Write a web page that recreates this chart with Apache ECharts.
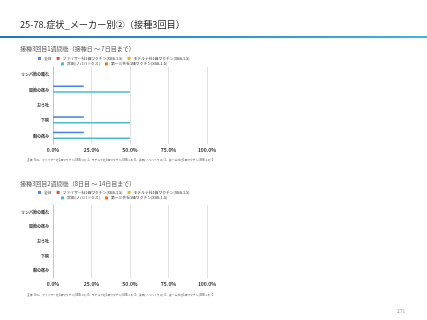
<!DOCTYPE html>
<html><head><meta charset="utf-8">
<script src="https://cdn.jsdelivr.net/npm/echarts@6/dist/echarts.min.js"></script>
<style>html,body{margin:0;padding:0;background:#fff}#c{width:427px;height:320px}</style>
</head><body><div id="c"></div>
<script>
const categories = ['リンパ節の腫れ', '関節の痛み', 'おう吐', '下痢', '胸の痛み'];
const seriesNames = ['全体', 'ファイザー社1価ワクチン(XBB.1.5)', 'モデルナ社1価ワクチン(XBB.1.5)', '武田(ノババックス)', '第一三共社1価ワクチン(XBB.1.5)'];
const colors = ['#4a86e8', '#e8453c', '#f6b400', '#46bdc6', '#ff6d01'];
// Chart 1: 1 week after
const week1_all = [0, 20, 0, 20, 20];
const week1_pfizer = [0, 0, 0, 0, 0];
const week1_moderna = [0, 0, 0, 0, 0];
const week1_takeda = [0, 50, 0, 50, 50];
const week1_daiichi = [0, 0, 0, 0, 0];
// Chart 2: 2 weeks after
const week2_all = [0, 0, 0, 0, 0];
const week2_pfizer = [0, 0, 0, 0, 0];
const week2_moderna = [0, 0, 0, 0, 0];
const week2_takeda = [0, 0, 0, 0, 0];
const week2_daiichi = [0, 0, 0, 0, 0];
const xTicks = [0, 25, 50, 75, 100];
const title = '25-78.症状_メーカー別②（接種3回目）';
const sub1 = '接種3回目1週間後（接種日 ～ 7日目まで）';
const sub2 = '接種3回目2週間後（8日目 ～ 14日目まで）';
const note1 = '全体: N=5、ファイザー社1価ワクチン(XBB.1.5): 2、モデルナ社1価ワクチン(XBB.1.5): 0、武田(ノババックス): 2、第一三共社1価ワクチン(XBB.1.5): 0';
const note2 = '全体: N=0、ファイザー社1価ワクチン(XBB.1.5): 0、モデルナ社1価ワクチン(XBB.1.5): 0、武田(ノババックス): 0、第一三共社1価ワクチン(XBB.1.5): 0';
const pageNo = '271';

const FF = '"Noto Sans CJK JP", "Noto Sans", sans-serif';
const w1 = [week1_all, week1_pfizer, week1_moderna, week1_takeda, week1_daiichi];
const w2 = [week2_all, week2_pfizer, week2_moderna, week2_takeda, week2_daiichi];

function xAxis(gi) {
  return {
    gridIndex: gi, type: 'value', min: 0, max: 100, interval: 25,
    axisLine: {show: false}, axisTick: {show: false},
    splitLine: {lineStyle: {color: '#d9d9d9', width: 0.8}},
    axisLabel: {fontSize: 5, color: '#333', fontWeight: 'bold', fontFamily: FF, margin: 4,
      formatter: v => v.toFixed(1) + '%'}
  };
}
function yAxis(gi) {
  return {
    gridIndex: gi, type: 'category', data: categories, inverse: true,
    axisLine: {lineStyle: {color: '#bfbfbf', width: 0.8}}, axisTick: {show: false},
    axisLabel: {fontSize: 4, color: '#333', fontWeight: 'bold', fontFamily: FF, margin: 4}
  };
}
const series = [];
[w1, w2].forEach((w, gi) => {
  w.forEach((d, i) => {
    series.push({
      name: seriesNames[i], type: 'bar', xAxisIndex: gi, yAxisIndex: gi, data: d,
      barWidth: 1.6, barGap: '20%', itemStyle: {color: colors[i]}, silent: true, animation: false
    });
  });
});
function legend(top, left, names) {
  return {top: top, left: left, data: names, itemWidth: 3, itemHeight: 3, itemGap: 5,
    icon: 'rect', textStyle: {fontSize: 3.8, color: '#333', fontFamily: FF, padding: [0, 0, 0, -2]}, padding: 0};
}
function txt(x, y, t, size, color, extra) {
  return Object.assign({type: 'text', left: x, top: y, style: {text: t, fontSize: size, fill: color, fontFamily: FF}}, extra || {});
}
const chart = echarts.init(document.getElementById('c'), null, {renderer: 'canvas'});
chart.setOption({
  animation: false,
  color: colors,
  grid: [
    {left: 53, width: 154, top: 67, height: 77},
    {left: 53, width: 154, top: 205, height: 73}
  ],
  xAxis: [xAxis(0), xAxis(1)],
  yAxis: [yAxis(0), yAxis(1)],
  legend: [
    legend(56.5, 38, seriesNames.slice(0, 3)),
    legend(62, 61, seriesNames.slice(3)),
    legend(190.5, 38, seriesNames.slice(0, 3)),
    legend(196, 61, seriesNames.slice(3))
  ],
  series: series,
  graphic: [
    txt(20, 19.5, title, 9.2, '#222'),
    {type: 'rect', left: 0, top: 36, shape: {width: 427, height: 2},
      style: {fill: new echarts.graphic.LinearGradient(0, 0, 1, 0, [{offset: 0, color: '#1a78c2'}, {offset: 1, color: '#3cb6dc'}])}},
    txt(20, 45.5, sub1, 6, '#555'),
    txt(20, 180.5, sub2, 6, '#555'),
    txt(27, 158.5, note1, 2.8, '#555'),
    txt(27, 293.5, note2, 2.8, '#555'),
    txt(397, 309, pageNo, 5, '#999')
  ]
});
</script></body></html>
